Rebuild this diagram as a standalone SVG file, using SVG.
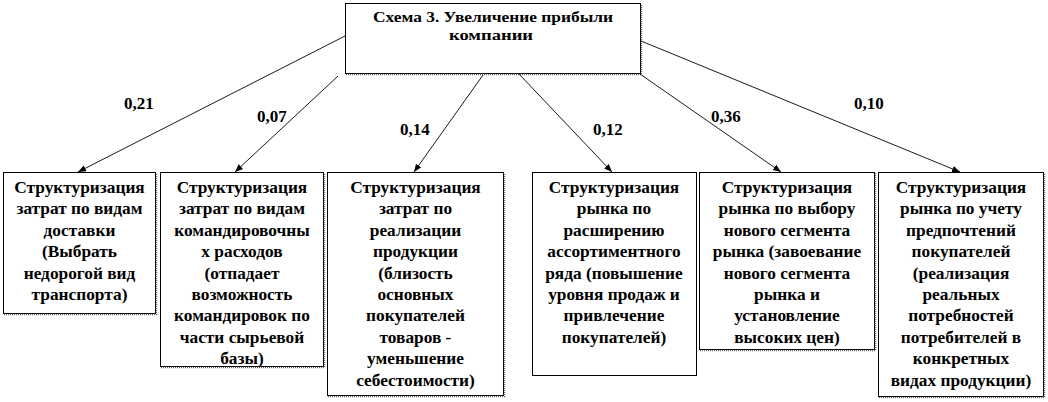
<svg xmlns="http://www.w3.org/2000/svg" width="1048" height="402" viewBox="0 0 1048 402">
<defs>
<marker id="ah" viewBox="0 0 10 10" refX="10" refY="5" markerWidth="8" markerHeight="8" markerUnits="userSpaceOnUse" orient="auto">
<path d="M0,1 L10,5 L0,9 z" fill="#000"/>
</marker>
</defs>
<style>
.box{fill:#fff;stroke:#000;stroke-width:1}
.sh{fill:none;stroke:#666;stroke-width:1.5;stroke-dasharray:1 1}
text{font-family:'Liberation Serif','Times New Roman',serif;font-weight:bold;fill:#000}
.t{font-size:16.5px;text-anchor:middle}
.h{font-size:15px;text-anchor:middle}
.lbl{font-size:17px}
.c{stroke:#000;stroke-width:0.9;fill:none;marker-end:url(#ah)}
</style>
<rect width="1048" height="402" fill="#fff"/>

<g id="top">
<rect class="box" x="345.5" y="3.5" width="295" height="70"/>
<path class="sh" d="M346,74.5 H641.5 V4"/>
<text class="h" x="493" y="22" textLength="240" lengthAdjust="spacingAndGlyphs">Схема 3. Увеличение прибыли</text>
<text class="h" x="491" y="40" textLength="84" lengthAdjust="spacingAndGlyphs">компании</text>
</g>

<g id="connectors">
<line class="c" x1="345" y1="36" x2="78" y2="172"/>
<line class="c" x1="338" y1="76" x2="235" y2="172"/>
<line class="c" x1="483" y1="75" x2="414" y2="172"/>
<line class="c" x1="519" y1="74" x2="612" y2="172"/>
<line class="c" x1="640" y1="74" x2="781" y2="172"/>
<line class="c" x1="641" y1="41" x2="960" y2="172"/>
</g>

<g id="labels">
<text class="lbl" x="124" y="109">0,21</text>
<text class="lbl" x="257" y="122">0,07</text>
<text class="lbl" x="400" y="135">0,14</text>
<text class="lbl" x="593" y="135">0,12</text>
<text class="lbl" x="711" y="122">0,36</text>
<text class="lbl" x="854" y="109">0,10</text>
</g>

<g id="n1">
<rect class="box" x="3.5" y="172.5" width="152" height="141"/>
<path class="sh" d="M4,314.5 H156.5 V173"/>
<g transform="translate(79.5 0) scale(1.05 1) translate(-79.5 0)">
<text class="t" x="79.5" y="193">Структуризация</text>
<text class="t" x="79.5" y="214.4">затрат по видам</text>
<text class="t" x="79.5" y="235.8">доставки</text>
<text class="t" x="79.5" y="257.2">(Выбрать</text>
<text class="t" x="79.5" y="278.6">недорогой вид</text>
<text class="t" x="79.5" y="300">транспорта)</text>
</g>
</g>

<g id="n2">
<rect class="box" x="160.5" y="172.5" width="163" height="194"/>
<path class="sh" d="M161,367.5 H324.5 V173"/>
<g transform="translate(242 0) scale(1.05 1) translate(-242 0)">
<text class="t" x="242" y="193">Структуризация</text>
<text class="t" x="242" y="214.4">затрат по видам</text>
<text class="t" x="242" y="235.8">командировочны</text>
<text class="t" x="242" y="257.2">х расходов</text>
<text class="t" x="242" y="278.6">(отпадает</text>
<text class="t" x="242" y="300">возможность</text>
<text class="t" x="242" y="321.4">командировок по</text>
<text class="t" x="242" y="342.8">части сырьевой</text>
<text class="t" x="242" y="364.2">базы)</text>
</g>
</g>

<g id="n3">
<rect class="box" x="327.5" y="172.5" width="176" height="223"/>
<path class="sh" d="M328,396.5 H504.5 V173"/>
<g transform="translate(415.5 0) scale(1.05 1) translate(-415.5 0)">
<text class="t" x="415.5" y="193">Структуризация</text>
<text class="t" x="415.5" y="214.4">затрат по</text>
<text class="t" x="415.5" y="235.8">реализации</text>
<text class="t" x="415.5" y="257.2">продукции</text>
<text class="t" x="415.5" y="278.6">(близость</text>
<text class="t" x="415.5" y="300">основных</text>
<text class="t" x="415.5" y="321.4">покупателей</text>
<text class="t" x="415.5" y="342.8">товаров -</text>
<text class="t" x="415.5" y="364.2">уменьшение</text>
<text class="t" x="415.5" y="385.6">себестоимости)</text>
</g>
</g>

<g id="n4">
<rect class="box" x="532.5" y="172.5" width="164" height="203"/>
<g transform="translate(614 0) scale(1.05 1) translate(-614 0)">
<text class="t" x="614" y="193">Структуризация</text>
<text class="t" x="614" y="214.4">рынка по</text>
<text class="t" x="614" y="235.8">расширению</text>
<text class="t" x="614" y="257.2">ассортиментного</text>
<text class="t" x="614" y="278.6">ряда (повышение</text>
<text class="t" x="614" y="300">уровня продаж и</text>
<text class="t" x="614" y="321.4">привлечение</text>
<text class="t" x="614" y="342.8">покупателей)</text>
</g>
</g>

<g id="n5">
<rect class="box" x="699.5" y="172.5" width="175" height="177"/>
<path class="sh" d="M700,350.5 H875.5 V173"/>
<g transform="translate(787 0) scale(1.05 1) translate(-787 0)">
<text class="t" x="787" y="193">Структуризация</text>
<text class="t" x="787" y="214.4">рынка по выбору</text>
<text class="t" x="787" y="235.8">нового сегмента</text>
<text class="t" x="787" y="257.2">рынка (завоевание</text>
<text class="t" x="787" y="278.6">нового сегмента</text>
<text class="t" x="787" y="300">рынка и</text>
<text class="t" x="787" y="321.4">установление</text>
<text class="t" x="787" y="342.8">высоких цен)</text>
</g>
</g>

<g id="n6">
<rect class="box" x="878.5" y="172.5" width="165" height="224"/>
<path class="sh" d="M879,397.5 H1044.5 V173"/>
<g transform="translate(961 0) scale(1.05 1) translate(-961 0)">
<text class="t" x="961" y="193">Структуризация</text>
<text class="t" x="961" y="214.4">рынка по учету</text>
<text class="t" x="961" y="235.8">предпочтений</text>
<text class="t" x="961" y="257.2">покупателей</text>
<text class="t" x="961" y="278.6">(реализация</text>
<text class="t" x="961" y="300">реальных</text>
<text class="t" x="961" y="321.4">потребностей</text>
<text class="t" x="961" y="342.8">потребителей в</text>
<text class="t" x="961" y="364.2">конкретных</text>
<text class="t" x="961" y="385.6">видах продукции)</text>
</g>
</g>
</svg>
